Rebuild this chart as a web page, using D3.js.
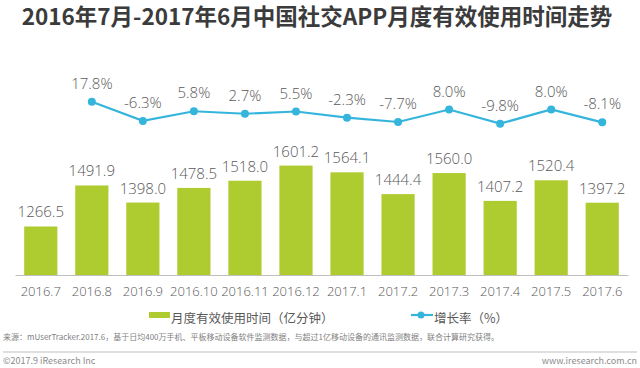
<!DOCTYPE html>
<html>
<head>
<meta charset="utf-8">
<script src="https://cdn.jsdelivr.net/npm/d3@7"></script>
<style>
  body { margin: 0; background: #fff; }
  svg { display: block; font-family: "Noto Sans CJK SC", "Open Sans", sans-serif; }
  .num { font-family: "Open Sans", "Noto Sans CJK SC", sans-serif; font-weight: 300; }
</style>
</head>
<body>
<svg id="chart" width="640" height="368"></svg>
<script>
  const months = ['2016.7', '2016.8', '2016.9', '2016.10', '2016.11', '2016.12',
    '2017.1', '2017.2', '2017.3', '2017.4', '2017.5', '2017.6']
  const usageTime = [1266.5, 1491.9, 1398.0, 1478.5, 1518.0, 1601.2,
    1564.1, 1444.4, 1560.0, 1407.2, 1520.4, 1397.2]
  // growth rate starts from 2016.8
  const growthMonths = months.slice(1)
  const growthRate = [17.8, -6.3, 5.8, 2.7, 5.5, -2.3, -7.7, 8.0, -9.8, 8.0, -8.1]

  const barColor = '#aecb2f'
  const lineColor = '#35b5dc'
  const textColor = '#595959'

  const svg = d3.select('#chart')

  // title
  svg.append('text')
    .attr('x', 317)
    .attr('y', 25)
    .attr('text-anchor', 'middle')
    .attr('font-size', 22.5)
    .attr('font-weight', 'bold')
    .attr('fill', '#3b3b3b')
    .text('2016年7月-2017年6月中国社交APP月度有效使用时间走势')

  const x = d3.scaleBand()
    .domain(months)
    .range([15, 628])
    .paddingInner(0.35)
    .paddingOuter(0.18)

  const yBar = d3.scaleLinear()
    .domain([1000, 1800])
    .range([275, 129.4])

  const yLine = d3.scaleLinear()
    .domain([-20, 30])
    .range([131.8, 92])

  // bars
  svg.append('g').selectAll('rect').data(usageTime)
    .enter().append('rect')
    .attr('x', (d, i) => x(months[i]))
    .attr('y', d => yBar(d))
    .attr('width', x.bandwidth())
    .attr('height', d => yBar(1000) - yBar(d))
    .attr('fill', barColor)

  svg.append('g').selectAll('text').data(usageTime)
    .enter().append('text')
    .attr('class', 'num')
    .attr('x', (d, i) => x(months[i]) + x.bandwidth() / 2)
    .attr('y', d => yBar(d) - 9)
    .attr('text-anchor', 'middle')
    .attr('font-size', 15)
    .attr('fill', textColor)
    .text(d => d.toFixed(1))

  // x axis
  const xAxis = svg.append('g')
    .attr('transform', 'translate(0,275)')
    .call(d3.axisBottom(x).tickSize(0).tickPadding(12))
  xAxis.select('.domain').attr('stroke', '#bfbfbf')
  xAxis.selectAll('text')
    .attr('class', 'num')
    .attr('font-size', 13)
    .attr('fill', textColor)

  // growth line
  const cx = m => x(m) + x.bandwidth() / 2
  const line = d3.line()
    .x((d, i) => cx(growthMonths[i]))
    .y(d => yLine(d))

  svg.append('path')
    .attr('d', line(growthRate))
    .attr('fill', 'none')
    .attr('stroke', lineColor)
    .attr('stroke-width', 2.2)

  svg.append('g').selectAll('circle').data(growthRate)
    .enter().append('circle')
    .attr('cx', (d, i) => cx(growthMonths[i]))
    .attr('cy', d => yLine(d))
    .attr('r', 4)
    .attr('fill', lineColor)

  svg.append('g').selectAll('text').data(growthRate)
    .enter().append('text')
    .attr('class', 'num')
    .attr('x', (d, i) => cx(growthMonths[i]))
    .attr('y', d => yLine(d) - 13)
    .attr('text-anchor', 'middle')
    .attr('font-size', 15)
    .attr('fill', textColor)
    .text(d => d.toFixed(1) + '%')

  // legend
  const legend = svg.append('g').attr('font-size', 12.5).attr('fill', textColor)
  legend.append('rect')
    .attr('x', 149).attr('y', 312)
    .attr('width', 21).attr('height', 6)
    .attr('fill', barColor)
  legend.append('text')
    .attr('x', 171).attr('y', 323)
    .text('月度有效使用时间（亿分钟）')
  legend.append('line')
    .attr('x1', 411).attr('x2', 433)
    .attr('y1', 315).attr('y2', 315)
    .attr('stroke', lineColor).attr('stroke-width', 2.2)
  legend.append('circle')
    .attr('cx', 421).attr('cy', 315).attr('r', 3.5)
    .attr('fill', lineColor)
  legend.append('text')
    .attr('x', 434).attr('y', 323)
    .text('增长率（%）')

  // footer
  svg.append('text')
    .attr('x', 3).attr('y', 340)
    .attr('font-size', 8)
    .attr('fill', '#7f7f7f')
    .text('来源：mUserTracker.2017.6，基于日均400万手机、平板移动设备软件监测数据，与超过1亿移动设备的通讯监测数据，联合计算研究获得。')

  svg.append('line')
    .attr('x1', 3).attr('x2', 637)
    .attr('y1', 352).attr('y2', 352)
    .attr('stroke', '#bfbfbf').attr('stroke-width', 1)

  svg.append('text')
    .attr('x', 3).attr('y', 364)
    .attr('font-size', 9)
    .attr('fill', '#8c8c8c')
    .text('©2017.9 iResearch Inc')

  svg.append('text')
    .attr('x', 637).attr('y', 364)
    .attr('text-anchor', 'end')
    .attr('font-size', 9)
    .attr('fill', '#8c8c8c')
    .text('www.iresearch.com.cn')
</script>
</body>
</html>
